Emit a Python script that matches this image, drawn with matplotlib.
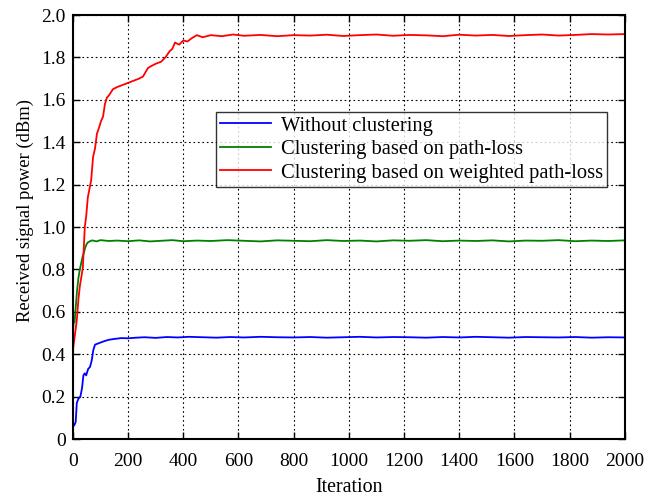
import matplotlib.pyplot as plt

# iteration / received power (dBm)
iter_blue = [0, 5, 10, 14, 20, 27, 33, 38, 43, 48, 55, 62, 68, 74, 80, 90, 100, 115, 130, 150, 175, 200,
             230, 260, 300, 340, 380, 420, 470, 520, 570, 620, 680, 740, 800, 860, 920, 980, 1040, 1100, 1160,
             1220, 1280, 1340, 1400, 1460, 1520, 1580, 1640, 1700, 1760, 1820, 1880, 1940, 2000]
power_blue = [0.06, 0.065, 0.08, 0.17, 0.19, 0.20, 0.24, 0.30, 0.31, 0.30, 0.33, 0.34, 0.37, 0.42, 0.445,
              0.45, 0.455, 0.462, 0.468, 0.472, 0.476, 0.475, 0.478, 0.480, 0.477, 0.481, 0.479, 0.482, 0.480,
              0.478, 0.481, 0.479, 0.482, 0.480, 0.479, 0.481, 0.478, 0.480, 0.482, 0.479, 0.481, 0.480, 0.478,
              0.481, 0.479, 0.482, 0.480, 0.478, 0.481, 0.480, 0.479, 0.481, 0.478, 0.480, 0.479]

iter_green = [0, 3, 6, 10, 15, 20, 25, 30, 35, 40, 45, 50, 55, 62, 70, 85, 100, 130, 160, 200, 240, 280, 320,
              360, 400, 450, 500, 560, 620, 680, 740, 800, 860, 920, 980, 1040, 1100, 1160, 1220, 1280, 1340,
              1400, 1460, 1520, 1580, 1640, 1700, 1760, 1820, 1880, 1940, 2000]
power_green = [0.50, 0.56, 0.55, 0.62, 0.70, 0.76, 0.80, 0.83, 0.86, 0.88, 0.905, 0.92, 0.928, 0.933, 0.937,
               0.932, 0.938, 0.934, 0.936, 0.933, 0.937, 0.932, 0.935, 0.938, 0.933, 0.936, 0.934, 0.938, 0.935,
               0.932, 0.937, 0.935, 0.933, 0.938, 0.934, 0.936, 0.932, 0.937, 0.935, 0.938, 0.933, 0.936, 0.934,
               0.937, 0.932, 0.936, 0.935, 0.938, 0.933, 0.936, 0.934, 0.937]

iter_red = [0, 5, 10, 14, 20, 25, 30, 36, 43, 48, 54, 60, 66, 73, 80, 87, 95, 102, 109, 116, 123, 130, 145,
            160, 180, 200, 220, 240, 254, 263, 272, 285, 300, 320, 335, 351, 360, 370, 385, 400, 415, 430, 449,
            470, 500, 540, 580, 620, 680, 740, 800, 860, 920, 980, 1040, 1100, 1160, 1220, 1280, 1340, 1400,
            1460, 1520, 1580, 1640, 1700, 1760, 1820, 1880, 1940, 2000]
power_red = [0.42, 0.47, 0.52, 0.56, 0.66, 0.72, 0.76, 0.81, 1.00, 1.05, 1.14, 1.18, 1.22, 1.33, 1.37, 1.44,
             1.47, 1.50, 1.52, 1.58, 1.61, 1.62, 1.65, 1.66, 1.67, 1.68, 1.69, 1.70, 1.71, 1.73, 1.75, 1.76,
             1.77, 1.78, 1.80, 1.83, 1.84, 1.87, 1.86, 1.88, 1.875, 1.89, 1.905, 1.895, 1.905, 1.90, 1.908,
             1.902, 1.906, 1.900, 1.905, 1.903, 1.907, 1.901, 1.905, 1.908, 1.902, 1.906, 1.904, 1.900,
             1.907, 1.903, 1.906, 1.901, 1.905, 1.908, 1.903, 1.906, 1.910, 1.908, 1.910]

labels = ["Without clustering", "Clustering based on path-loss",
          "Clustering based on weighted path-loss"]

plt.rcParams['font.family'] = ['Liberation Serif', 'DejaVu Serif']
plt.rcParams['font.size'] = 14

fig = plt.figure(figsize=(6.57, 5.0), dpi=100)
ax = fig.add_axes([0.111, 0.122, 0.840, 0.848])

ax.plot(iter_blue, power_blue, color='#0000ff', lw=1.3, label=labels[0])
ax.plot(iter_green, power_green, color='#008000', lw=1.3, label=labels[1])
ax.plot(iter_red, power_red, color='#ff0000', lw=1.3, label=labels[2])

ax.set_xlim(0, 2000)
ax.set_ylim(0, 2.0)
ax.set_xticks(range(0, 2001, 200))
ax.set_yticks([i * 0.2 for i in range(11)])
ax.set_yticklabels(["0"] + [f"{i * 0.2:.1f}" for i in range(1, 11)])
ax.tick_params(direction='in', length=5, top=True, right=True, width=1, labelsize=14)
ax.tick_params(axis='x', pad=10)
ax.tick_params(axis='y', pad=5)
ax.grid(True, color='black', linestyle=(0, (1.5, 2.5)), linewidth=0.8)
for s in ax.spines.values():
    s.set_linewidth(1.5)

ax.set_xlabel("Iteration", fontsize=14.4)
ax.xaxis.set_label_coords(0.5, -0.092)
ax.set_ylabel("Received signal power (dBm)", fontsize=13.4)
ax.yaxis.set_label_coords(-0.071, 0.54)

leg = ax.legend(loc='upper left', bbox_to_anchor=(0.259, 0.771), fancybox=False, edgecolor='black',
                fontsize=14.8, handlelength=2.5, borderpad=0.2, labelspacing=0.2, handletextpad=0.45,
                borderaxespad=0)
leg.get_frame().set_linewidth(1.0)

fig.savefig("out.png", dpi=100)
